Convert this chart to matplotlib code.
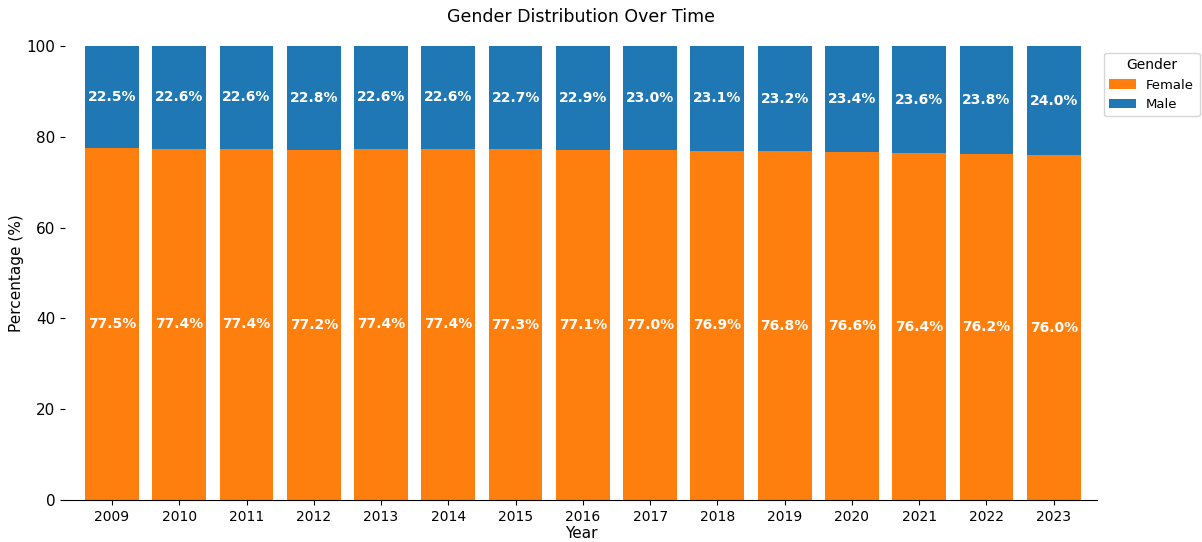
import matplotlib.pyplot as plt
import numpy as np

years = ["2009", "2010", "2011", "2012", "2013", "2014", "2015", "2016",
         "2017", "2018", "2019", "2020", "2021", "2022", "2023"]
female = [77.5, 77.4, 77.4, 77.2, 77.4, 77.4, 77.3, 77.1, 77.0, 76.9, 76.8, 76.6, 76.4, 76.2, 76.0]
male = [22.5, 22.6, 22.6, 22.8, 22.6, 22.6, 22.7, 22.9, 23.0, 23.1, 23.2, 23.4, 23.6, 23.8, 24.0]

fig = plt.figure(figsize=(12.02, 5.42), dpi=100)
ax = fig.add_axes([0.054, 0.0775, 0.859, 0.8375])

x = np.arange(len(years))
ax.bar(x, female, 0.8, color="#ff7f0e", label="Female")
ax.bar(x, male, 0.8, bottom=female, color="#1f77b4", label="Male")

# percentage labels in the middle of each segment
for i in range(len(years)):
    ax.text(x[i], female[i] / 2, f"{female[i]:.1f}%", ha="center", va="center",
            color="white", fontweight="bold", fontsize=10)
    ax.text(x[i], female[i] + male[i] / 2, f"{male[i]:.1f}%", ha="center", va="center",
            color="white", fontweight="bold", fontsize=10)

ax.set_xticks(x)
ax.set_xticklabels(years)
ax.set_xlim(-0.7, 14.65)
ax.set_ylim(0, 100)
ax.set_xlabel("Year", fontsize=11, labelpad=2)
ax.set_ylabel("Percentage (%)", fontsize=11, labelpad=2)
ax.set_title("Gender Distribution Over Time", fontsize=12.5, pad=17)
ax.tick_params(axis="x", labelsize=10)
ax.tick_params(axis="y", labelsize=11)
for s in ["top", "right", "left"]:
    ax.spines[s].set_visible(False)

ax.legend(title="Gender", loc="upper left", bbox_to_anchor=(1.0, 1.0),
          fontsize=9.5, title_fontsize=10)

plt.savefig("out.png", dpi=100)
